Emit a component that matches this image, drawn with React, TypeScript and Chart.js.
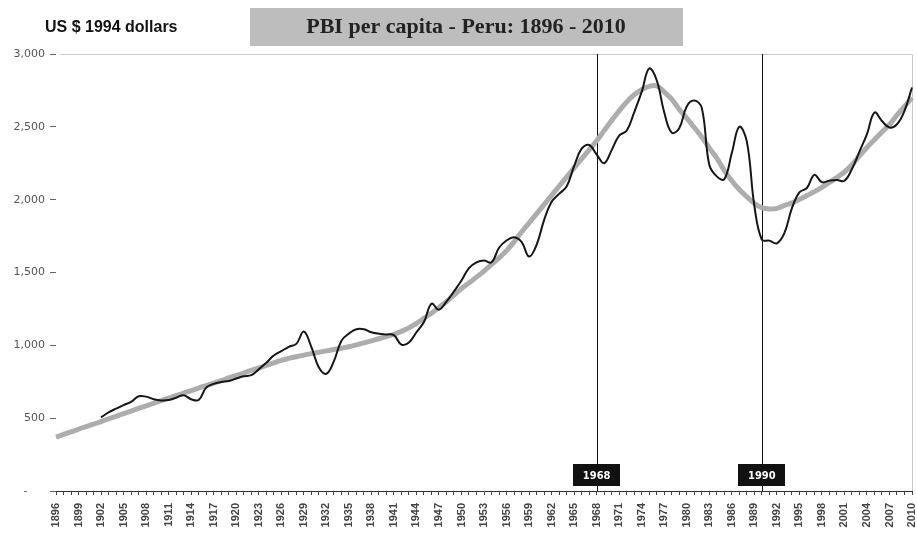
import React, { useEffect, useRef } from "react";
import { Chart, registerables } from "chart.js";

Chart.register(...registerables);

// Categories: years 1896..2010
const years: string[] = Array.from({ length: 115 }, (_, i) => String(1896 + i));

// GDP per capita (US$ 1994)
const perCapita: (number | null)[] = [
  null, null, null, null,
  null, null, 505, 540, 565, 590, 612, 650, 648, 630,
  622, 625, 640, 658, 630, 625, 710, 735, 748, 755,
  772, 788, 795, 835, 880, 930, 960, 990, 1010, 1095,
  990, 850, 805, 890, 1030, 1080, 1110, 1110, 1090, 1080,
  1075, 1070, 1005, 1020, 1090, 1160, 1286, 1245, 1300, 1370,
  1445, 1530, 1570, 1582, 1570, 1670, 1720, 1742, 1710, 1610,
  1690, 1860, 1985, 2040, 2090, 2230, 2350, 2375, 2310, 2250,
  2340, 2440, 2473, 2600, 2740, 2900, 2820, 2600, 2460, 2490,
  2640, 2680, 2630, 2240, 2160, 2140, 2320, 2500, 2400, 1960,
  1725, 1719, 1700, 1770, 1940, 2050, 2080, 2170, 2120, 2130,
  2135, 2130, 2210, 2330, 2450, 2598, 2540, 2495, 2518, 2610, 2770,
];

// Long-run trend
const trend: number[] = [
  370, 388, 406, 424,
  442, 459, 477, 495, 513, 531, 549, 567, 585, 602,
  620, 637, 655, 672, 689, 707, 724, 741, 758, 776,
  793, 810, 828, 845, 862, 880, 897, 910, 922, 933,
  943, 953, 962, 971, 980, 990, 1003, 1017, 1031, 1045,
  1060, 1076, 1096, 1120, 1150, 1185, 1220, 1260, 1300, 1345,
  1390, 1428, 1468, 1510, 1555, 1600, 1650, 1710, 1778, 1840,
  1903, 1966, 2029, 2092, 2155, 2218, 2280, 2342, 2404, 2474,
  2543, 2610, 2670, 2720, 2755, 2778, 2781, 2740, 2690, 2620,
  2560, 2495, 2430, 2355, 2285, 2200, 2130, 2070, 2020, 1975,
  1945, 1936, 1940, 1960, 1978, 2002, 2028, 2055, 2085, 2118,
  2152, 2190, 2240, 2300, 2358, 2412, 2465, 2516, 2580, 2640, 2700,
];

const markerYears: string[] = ["1968", "1990"];
const yMin = 0;
const yMax = 3000;
const yStep = 500;
const labelEvery = 3;
const titleText = "PBI per capita - Peru: 1896 - 2010";
const unitText = "US $ 1994 dollars";

const decorPlugin = {
  id: "decor",
  beforeDatasetsDraw(chart: any) {
    const { ctx, chartArea, scales } = chart;
    ctx.save();
    // frame top & right
    ctx.strokeStyle = "#c8c8c8";
    ctx.lineWidth = 1;
    ctx.beginPath();
    ctx.moveTo(chartArea.left + 4, chartArea.top + 0.5);
    ctx.lineTo(chartArea.right + 0.5, chartArea.top + 0.5);
    ctx.lineTo(chartArea.right + 0.5, chartArea.bottom);
    ctx.stroke();
    // vertical marker lines
    ctx.strokeStyle = "#111";
    ctx.lineWidth = 1;
    markerYears.forEach((yr) => {
      const x = Math.round(scales.x.getPixelForValue(years.indexOf(yr))) + 0.5;
      ctx.beginPath();
      ctx.moveTo(x, chartArea.top);
      ctx.lineTo(x, chartArea.bottom);
      ctx.stroke();
    });
    ctx.restore();
  },
  afterDraw(chart: any) {
    const { ctx, chartArea, scales } = chart;
    ctx.save();
    // title box
    ctx.fillStyle = "#bdbdbd";
    ctx.fillRect(250, 8, 433, 38);
    ctx.fillStyle = "#222";
    ctx.font = "bold 22px 'Liberation Serif'";
    ctx.textAlign = "center";
    ctx.textBaseline = "middle";
    ctx.fillText(titleText, 466, 27);
    // unit label
    ctx.font = "bold 16px 'Liberation Sans'";
    ctx.textAlign = "left";
    ctx.fillStyle = "#111";
    ctx.fillText(unitText, 45, 28);
    // marker boxes
    markerYears.forEach((yr) => {
      const x = scales.x.getPixelForValue(years.indexOf(yr));
      const w = 47;
      const h = 22;
      const bottom = chartArea.bottom - 5;
      ctx.fillStyle = "#111";
      ctx.fillRect(Math.round(x - w / 2), bottom - h, w, h);
      ctx.fillStyle = "#fff";
      ctx.font = "bold 11px 'DejaVu Sans Condensed', 'DejaVu Sans'";
      ctx.textAlign = "center";
      ctx.textBaseline = "middle";
      ctx.fillText(yr, x, bottom - h / 2 + 1);
    });
    ctx.restore();
  },
};

export default function App() {
  const ref = useRef<HTMLCanvasElement | null>(null);
  useEffect(() => {
    if (!ref.current) return;
    const chart = new Chart(ref.current, {
      type: "line",
      data: {
        labels: years,
        datasets: [
          {
            label: "PBI per capita",
            data: perCapita,
            borderColor: "#161616",
            borderWidth: 2,
            pointRadius: 0,
            tension: 0.4,
            fill: false,
          },
          {
            label: "Tendencia",
            data: trend,
            borderColor: "#adadad",
            borderWidth: 5,
            pointRadius: 0,
            tension: 0.4,
            fill: false,
          },
        ],
      },
      options: {
        animation: false,
        responsive: false,
        events: [],
        layout: { padding: { top: 54, right: 5, bottom: 0, left: 0 } },
        plugins: {
          legend: { display: false },
          tooltip: { enabled: false },
          title: { display: false },
        },
        scales: {
          x: {
            type: "category",
            offset: false,
            grid: { display: true, drawOnChartArea: false, drawTicks: true, tickLength: 4, color: "#444" },
            border: { display: true, color: "#333", width: 1 },
            ticks: {
              autoSkip: false,
              maxRotation: 90,
              minRotation: 90,
              padding: 8,
              color: "#444",
              font: { size: 11, family: "'Liberation Sans'", weight: "bold" },
              callback: (_v: any, i: number) => (i % labelEvery === 0 ? years[i] : ""),
            },
            afterFit: (s: any) => {
              s.height = 43;
              s.paddingRight = 0;
              s.paddingLeft = 0;
            },
          },
          y: {
            min: yMin,
            max: yMax,
            grid: { display: true, drawOnChartArea: false, drawTicks: true, tickLength: 6, color: "#666" },
            border: { display: false },
            ticks: {
              stepSize: yStep,
              padding: 5,
              color: "#555",
              font: { size: 11, family: "'DejaVu Sans'" },
              callback: (v: any) => (v === 0 ? "-     " : Number(v).toLocaleString("en-US")),
            },
            afterFit: (s: any) => {
              s.width = 56;
            },
          },
        },
      },
      plugins: [decorPlugin],
    });
    return () => chart.destroy();
  }, []);
  return (
    <div style={{ position: "fixed", left: 0, top: 0, width: 917, height: 534, background: "#fff" }}>
      <canvas ref={ref} width={917} height={534} style={{ width: 917, height: 534 }} />
    </div>
  );
}
